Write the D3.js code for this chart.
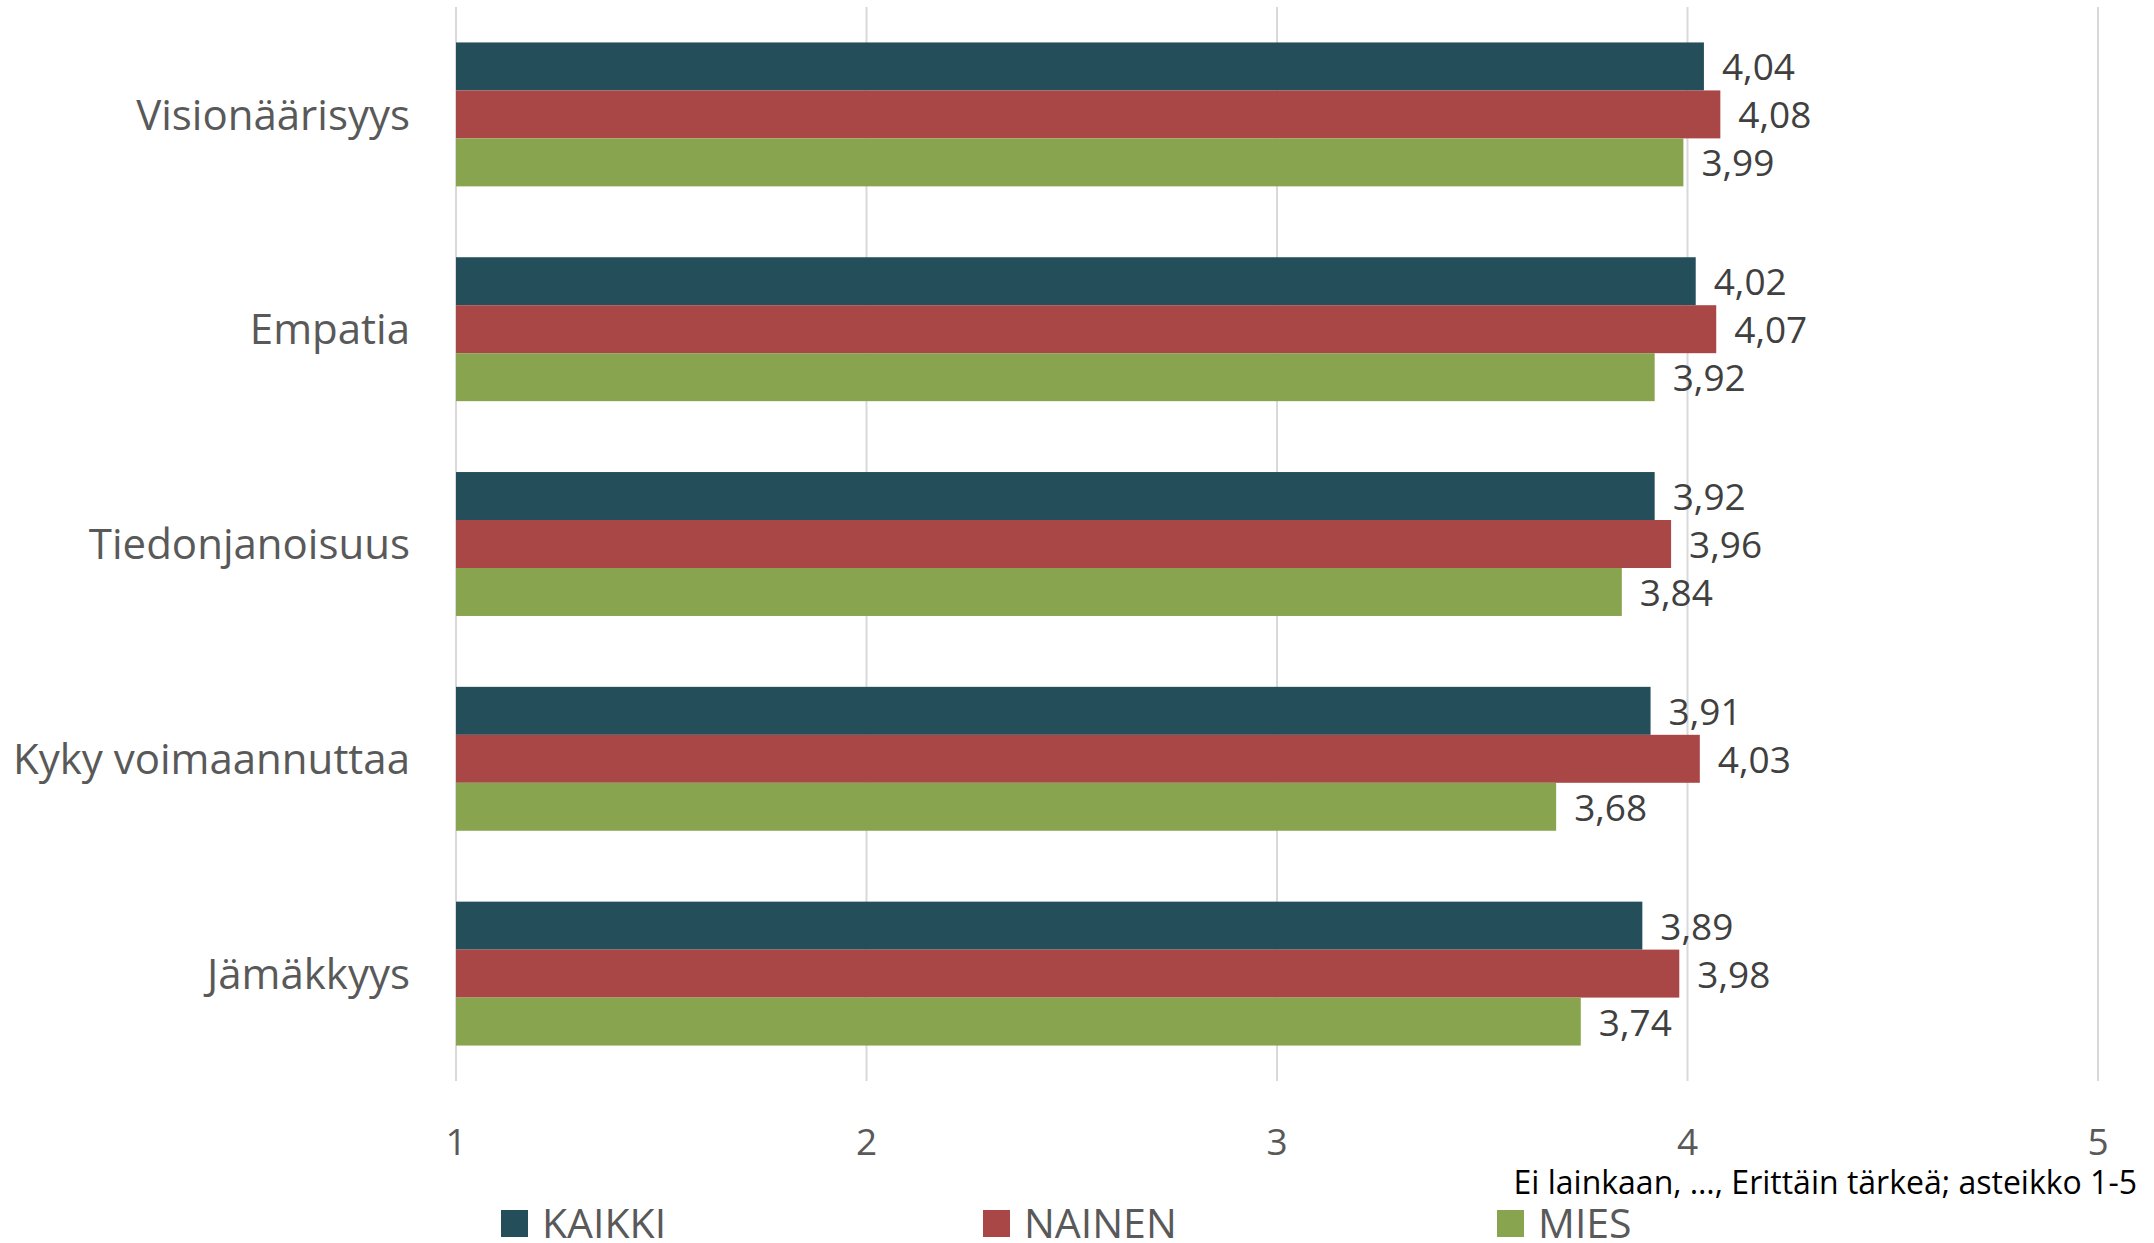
<!DOCTYPE html>
<html>
<head>
<meta charset="utf-8">
<script src="https://cdnjs.cloudflare.com/ajax/libs/d3/7.8.5/d3.min.js"></script>
<style>
  html, body { margin: 0; padding: 0; background: #fff; }
  svg { display: block; font-family: "Open Sans", "Noto Sans", sans-serif; }
</style>
</head>
<body>
<svg id="chart" width="2154" height="1243"></svg>
<script>
// Leadership traits, mean importance on a 1–5 scale
const categories = ["Visionäärisyys", "Empatia", "Tiedonjanoisuus", "Kyky voimaannuttaa", "Jämäkkyys"];
const seriesNames = ["KAIKKI", "NAINEN", "MIES"];
const kaikki = [4.04, 4.02, 3.92, 3.91, 3.89];
const nainen = [4.08, 4.07, 3.96, 4.03, 3.98];
const mies   = [3.99, 3.92, 3.84, 3.68, 3.74];
const xTicks = [1, 2, 3, 4, 5];
const scaleNote = "Ei lainkaan, …, Erittäin tärkeä; asteikko 1-5";

const seriesValues = [kaikki, nainen, mies];
const colors = ["#234E5A", "#A94646", "#89A44E"];

const svg = d3.select("#chart");
const plot = { left: 456, right: 2098, top: 7, bottom: 1081 };

const x = d3.scaleLinear().domain([1, 5]).range([plot.left, plot.right]);
const y = d3.scaleBand().domain(categories).range([plot.top, plot.bottom])
  .paddingInner(0.33).paddingOuter(0.165);
const ySub = d3.scaleBand().domain(seriesNames).range([0, y.bandwidth()]);

// vertical gridlines
svg.append("g").selectAll("line").data(xTicks).join("line")
  .attr("x1", d => x(d)).attr("x2", d => x(d))
  .attr("y1", plot.top).attr("y2", plot.bottom)
  .attr("stroke", "#D9D9D9").attr("stroke-width", 2);

// bars and value labels
const rows = categories.map((c, i) => ({
  cat: c,
  vals: seriesNames.map((s, j) => ({ s, v: seriesValues[j][i], color: colors[j] }))
}));

const groups = svg.append("g").selectAll("g").data(rows).join("g")
  .attr("transform", d => `translate(0,${y(d.cat)})`);

groups.selectAll("rect").data(d => d.vals).join("rect")
  .attr("x", x(1))
  .attr("y", d => ySub(d.s))
  .attr("width", d => x(d.v) - x(1))
  .attr("height", ySub.bandwidth())
  .attr("fill", d => d.color);

groups.selectAll("text").data(d => d.vals).join("text")
  .attr("x", d => x(d.v) + 18)
  .attr("y", d => ySub(d.s) + ySub.bandwidth() / 2)
  .attr("dy", "0.38em")
  .attr("font-size", 37)
  .attr("fill", "#404040")
  .text(d => d.v.toFixed(2).replace(".", ","));

// category labels
svg.append("g").selectAll("text").data(categories).join("text")
  .attr("x", 410)
  .attr("y", d => y(d) + y.bandwidth() / 2)
  .attr("dy", "0.36em")
  .attr("text-anchor", "end")
  .attr("font-size", 42)
  .attr("fill", "#595959")
  .text(d => d);

// x axis tick labels
svg.append("g").selectAll("text").data(xTicks).join("text")
  .attr("x", d => x(d))
  .attr("y", 1155)
  .attr("text-anchor", "middle")
  .attr("font-size", 37)
  .attr("fill", "#595959")
  .text(d => d);

// scale note
svg.append("text")
  .attr("x", 2137).attr("y", 1194)
  .attr("text-anchor", "end")
  .attr("font-size", 32)
  .attr("fill", "#000")
  .text(scaleNote);

// legend
const legendX = [501, 983, 1497];
const legend = svg.append("g").selectAll("g").data(seriesNames).join("g")
  .attr("transform", (d, i) => `translate(${legendX[i]},1210)`);
legend.append("rect").attr("width", 27).attr("height", 27)
  .attr("fill", (d, i) => colors[i]);
legend.append("text").attr("x", 41).attr("y", 28)
  .attr("font-size", 41).attr("fill", "#595959")
  .text(d => d);
</script>
</body>
</html>
